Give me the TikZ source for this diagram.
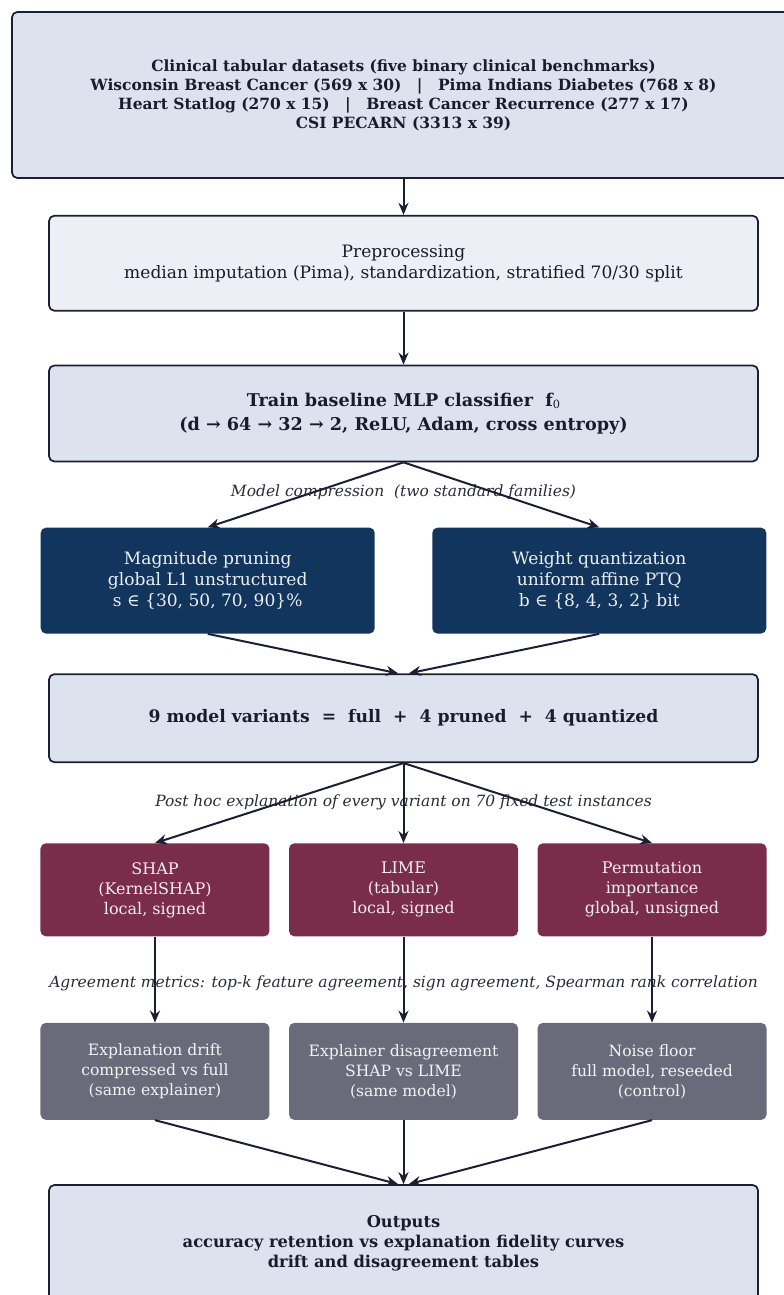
\documentclass[tikz,border=0pt]{standalone}
\usepackage{fontspec}
\setmainfont{DejaVu Serif}
\usepackage{xcolor}
\usepackage{tikz}
\usetikzlibrary{arrows.meta,positioning}
\definecolor{lightbox}{HTML}{DDE3EE}
\definecolor{palebox}{HTML}{ECEFF5}
\definecolor{edgeink}{HTML}{1C1F33}
\definecolor{navybox}{HTML}{12355E}
\definecolor{winebox}{HTML}{7A2C4B}
\definecolor{slatebox}{HTML}{6B6A7B}
\definecolor{textink}{HTML}{1A1C2E}
\definecolor{noteink}{HTML}{2A2B3A}
\tikzset{
  block/.style={rectangle, rounded corners=4pt, draw=edgeink, line width=1.3pt,
                fill=lightbox, text=textink, align=center, inner sep=4pt},
  pale/.style={block, fill=palebox},
  family/.style={rectangle, rounded corners=4pt, fill=navybox, text=white!92!navybox,
                 align=center, minimum width=250.5pt, minimum height=79.5pt,
                 font=\fontsize{12.8}{15.75}\selectfont},
  explainer/.style={family, fill=winebox, text=white!92!winebox, minimum width=171.75pt,
                    minimum height=69.75pt, font=\fontsize{12}{15}\selectfont},
  metric/.style={family, fill=slatebox, text=white!92!slatebox, minimum width=171.75pt,
                 minimum height=72.75pt, font=\fontsize{11.7}{15}\selectfont},
  note/.style={text=noteink, font=\fontsize{11.6}{13}\selectfont\itshape},
  flow/.style={-{Stealth[length=9pt, width=7.5pt]}, draw=edgeink, line width=1.5pt},
}

\begin{document}
\begin{tikzpicture}[x=0.75pt, y=-0.75pt, every edge/.style={flow}]
\clip (0,0) rectangle (784,1295);
\useasboundingbox (0,0) rectangle (784,1295);

\node[block, minimum width=587.25pt, minimum height=124.5pt,
      font=\fontsize{11.6}{14.25}\selectfont\bfseries] (data) at (403.5,95)
  {Clinical tabular datasets (five binary clinical benchmarks)\\
   Wisconsin Breast Cancer (569 x 30)\quad|\quad Pima Indians Diabetes (768 x 8)\\
   Heart Statlog (270 x 15)\quad|\quad Breast Cancer Recurrence (277 x 17)\\
   CSI PECARN (3313 x 39)};
\node[pale, minimum width=531.75pt, minimum height=71.25pt,
      font=\fontsize{12.8}{15.75}\selectfont] (prep) [below=27pt of data]
  {Preprocessing\\ median imputation (Pima), standardization, stratified 70/30 split};
\node[block, minimum width=531.75pt, minimum height=72pt,
      font=\fontsize{13.2}{18}\selectfont\bfseries] (train) [below=39.75pt of prep]
  {Train baseline MLP classifier\ \ f{\mdseries\fontsize{8.5}{9}\selectfont\raisebox{-0.35ex}{0}}\\
   (d → 64 → 32 → 2, ReLU, Adam, cross entropy)};

\node[family] (prune) [below left=48.75pt and 21.375pt of train.south]
  {Magnitude pruning\\ global L1 unstructured\\ s ∈ \{30, 50, 70, 90\}\%};
\node[family] (quant) [below right=48.75pt and 21.375pt of train.south]
  {Weight quantization\\ uniform affine PTQ\\ b ∈ \{8, 4, 3, 2\} bit};

\node[block, minimum width=531.75pt, minimum height=66pt,
      font=\fontsize{12.9}{15}\selectfont\bfseries] (variants) [below=158.25pt of train]
  {9 model variants\ \ =\ \ full\ \ +\ \ 4 pruned\ \ +\ \ 4 quantized};

\node[explainer] (lime) [below=60pt of variants] {LIME\\ (tabular)\\ local, signed};
\node[explainer] (shap) [left=14.25pt of lime] {SHAP\\ (KernelSHAP)\\ local, signed};
\node[explainer] (perm) [right=14.25pt of lime] {Permutation\\ importance\\ global, unsigned};

\node[metric] (disagree) [below=64.5pt of lime]
  {Explainer disagreement\\ SHAP vs LIME\\ (same model)};
\node[metric] (drift) [left=14.25pt of disagree]
  {Explanation drift\\ compressed vs full\\ (same explainer)};
\node[metric] (noise) [right=14.25pt of disagree]
  {Noise floor\\ full model, reseeded\\ (control)};

\node[block, minimum width=531.75pt, minimum height=87pt,
      font=\fontsize{12.2}{15}\selectfont\bfseries] (out) [below=48pt of disagree]
  {Outputs\\ accuracy retention vs explanation fidelity curves\\ drift and disagreement tables};

\node[note] (n1) at (403.5,492) {Model compression\ \ (two standard families)};
\node[note] (n2) at (403.5,802) {Post hoc explanation of every variant on 70 fixed test instances};
\node[note] (n3) at (403.5,983) {Agreement metrics: top-k feature agreement, sign agreement, Spearman rank correlation};

\path
 (data) edge (prep)
 (prep) edge (train)
 (train.south) edge (prune.north)
 (train.south) edge (quant.north)
 (prune.south) edge ([xshift=-4pt]variants.north)
 (quant.south) edge ([xshift=4pt]variants.north)
 (variants.south) edge (shap.north)
 (variants.south) edge (lime.north)
 (variants.south) edge (perm.north)
 (shap) edge (drift)
 (lime) edge (disagree)
 (perm) edge (noise)
 (drift.south) edge ([xshift=-4pt]out.north)
 (disagree) edge (out)
 (noise.south) edge ([xshift=4pt]out.north);
\end{tikzpicture}
\end{document}
